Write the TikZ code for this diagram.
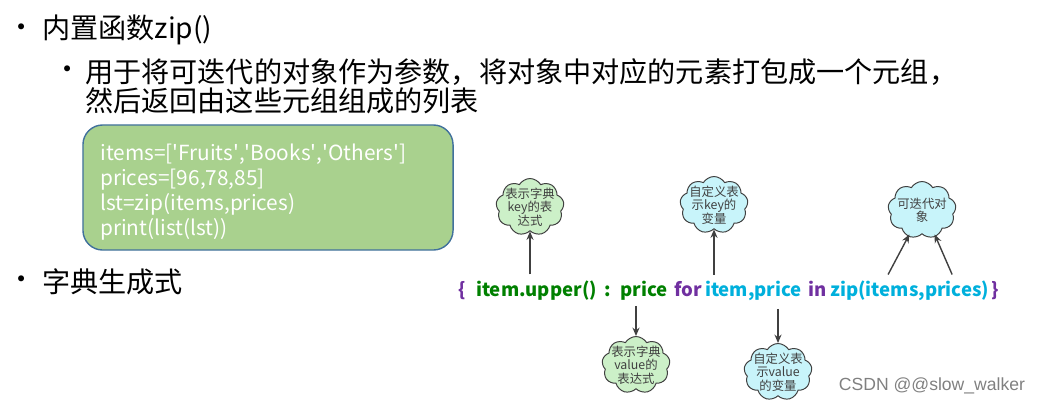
\documentclass[tikz,border=0pt]{standalone}
\usepackage{fontspec}
\setmainfont{Noto Sans CJK SC}
\newfontfamily\marquefont{Liberation Sans}
\usetikzlibrary{arrows.meta,shapes.symbols,positioning}
\definecolor{cvert}{RGB}{0,128,0}
\definecolor{cviolet}{RGB}{112,48,160}
\definecolor{ccyan}{RGB}{0,176,220}
\definecolor{cboite}{RGB}{169,209,142}
\definecolor{cbord}{RGB}{65,113,156}
\definecolor{nvert}{RGB}{204,240,200}
\definecolor{ncyan}{RGB}{200,244,250}
\definecolor{cgris}{RGB}{64,64,64}
\newcommand\apo{\XeTeXglyph\XeTeXcharglyph"27\relax}

\begin{document}
\begin{tikzpicture}[x=0.025cm, y=-0.025cm, >={Stealth[length=6pt,width=5pt]},
  puce/.style={anchor=west, inner sep=0pt, font=\fontsize{20}{21}\selectfont},
  point/.style={inner sep=0pt, font=\fontsize{20}{21}\selectfont},
  expr/.style={anchor=base west, inner sep=0pt, font=\fontsize{13.2}{15}\selectfont\bfseries},
  nuage/.style={cloud, cloud puffs=9, cloud puff arc=120, draw=cgris, line width=0.7pt,
    inner sep=-5pt, minimum width=1.7cm, minimum height=1.3cm, align=center,
    font=\fontsize{8.8}{9.6}\selectfont, text=black!75},
  fleche/.style={->, draw=cgris, line width=1pt}]
\useasboundingbox (0,0) rectangle (1044,409);

% titres
\node[point] (p1) at (22,31) {•};
\node[puce] (b1) at (42,30) {内置函数zip()};
\node[point] (p2) at (68,73) {•};
\node[puce] (b2) at (85,72) {用于将可迭代的对象作为参数，将对象中对应的元素打包成一个元组，};
\node[puce] (b2b) at (85,101) {然后返回由这些元组组成的列表};
\node[point] (p3) at (22,283) {•};
\node[puce] (b3) at (42,282) {字典生成式};

% code
\node[draw=cbord, line width=1pt, fill=cboite, rounded corners=14pt,
  minimum width=9.25cm, minimum height=3.125cm] (code) at (268,187.5) {};
\node[anchor=north west, inner sep=0pt, align=left, text=white,
  font=\fontsize{14.8}{17.8}\selectfont] (lignes) at (100,144)
  {items=[\apo Fruits\apo,\apo Books\apo,\apo Others\apo]\\prices=[96,78,85]\\lst=zip(items,prices)\\print(list(lst))};

% expression
\node[expr, text=cviolet] (accg) at (458,296) {\{};
\node[expr, text=cvert] (upper) at ([xshift=7pt]accg.base east) {item.upper()};
\node[expr, text=cvert] (deuxp) at ([xshift=5pt]upper.base east) {:};
\node[expr, text=cvert] (prix) at ([xshift=6.5pt]deuxp.base east) {price};
\node[expr, text=cviolet] (pour) at ([xshift=4pt]prix.base east) {for};
\node[expr, text=ccyan] (couple) at ([xshift=2pt]pour.base east) {item,price};
\node[expr, text=cviolet] (dans) at ([xshift=4pt]couple.base east) {in};
\node[expr, text=ccyan] (zipf) at ([xshift=2.5pt]dans.base east) {zip(items,prices)};
\node[expr, text=cviolet] (accd) at ([xshift=1.5pt]zipf.base east) {\}};

% nuages
\node[nuage, fill=nvert] (cle) at (530,207) {表示字典\\key的表\\达式};
\node[nuage, fill=ncyan] (varcle) at (714,205) {自定义表\\示key的\\变量};
\node[nuage, fill=ncyan] (iter) at (922,210) {可迭代对\\象};
\node[nuage, fill=nvert] (valeur) at (636,365) {表示字典\\value的\\表达式};
\node[nuage, fill=ncyan] (varval) at (778,372) {自定义表\\示value\\的变量};

% fleches
\draw[fleche] ([yshift=4pt]upper.north -| cle) -- (cle);
\draw[fleche] ([yshift=4pt]couple.north -| varcle) -- (varcle);
\draw[fleche] ([xshift=1.45cm,yshift=4pt]zipf.north west) -- ([xshift=-9pt]iter.south);
\draw[fleche] ([xshift=3.05cm,yshift=4pt]zipf.north west) -- ([xshift=9pt]iter.south);
\draw[fleche] ([yshift=-4pt]prix.south -| valeur) -- (valeur);
\draw[fleche] ([yshift=-6pt]couple.south -| varval) -- (varval);

\node[anchor=east, text=black!50, font=\marquefont\fontsize{12.5}{13}\selectfont] (marque) at (1030,386) {CSDN @@slow\_walker};
\end{tikzpicture}
\end{document}
